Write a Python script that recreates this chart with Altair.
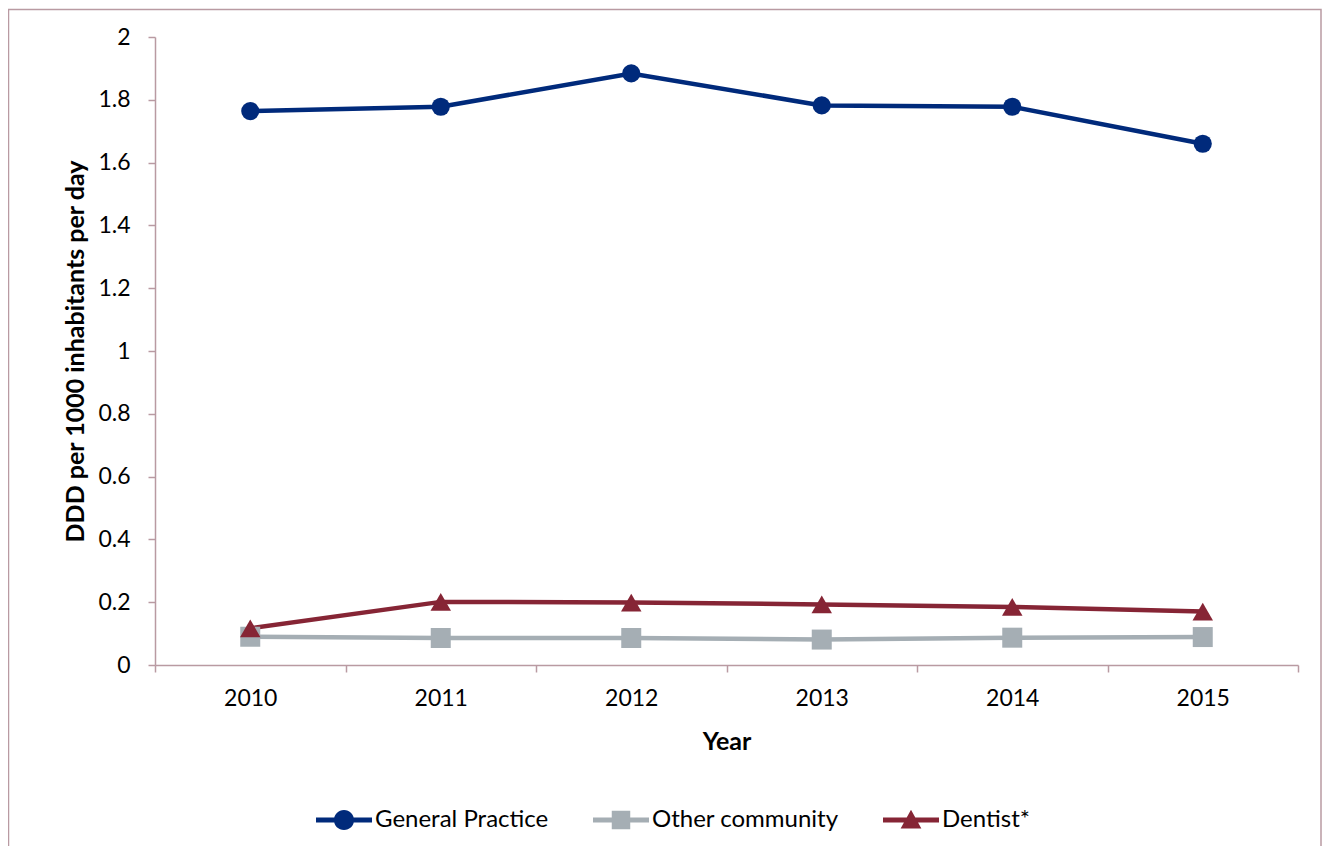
import altair as alt
import pandas as pd

years = ["2010", "2011", "2012", "2013", "2014", "2015"]
series_names = ["General Practice", "Other community", "Dentist*"]
general_practice = [1.764, 1.778, 1.884, 1.782, 1.778, 1.660]
other_community = [0.090, 0.086, 0.086, 0.081, 0.087, 0.089]
dentist = [0.117, 0.201, 0.199, 0.193, 0.185, 0.170]
colors = ["#002A7B", "#A5AEB4", "#862535"]
shapes = ["circle", "square", "triangle-up"]
sizes = [330, 400, 420]
y_ticks = [0, 0.2, 0.4, 0.6, 0.8, 1.0, 1.2, 1.4, 1.6, 1.8, 2.0]

rows = []
for name, vals in zip(series_names, [general_practice, other_community, dentist]):
    for yr, v in zip(years, vals):
        rows.append({"Year": yr, "value": v, "series": name})
df = pd.DataFrame(rows)

FONT = "Lato"
AXIS_COLOR = "#B99AA2"

# legend symbols: line segment + marker, in unit coordinates
line_part = "M-1,-0.085 L1,-0.085 L1,0.085 L-1,0.085 Z "
legend_paths = [
    line_part + "M-0.36,0 A0.36,0.36 0 1,1 0.36,0 A0.36,0.36 0 1,1 -0.36,0 Z",
    line_part + "M-0.33,-0.33 L0.33,-0.33 L0.33,0.33 L-0.33,0.33 Z",
    line_part + "M0,-0.37 L0.37,0.3 L-0.37,0.3 Z",
]

legend = alt.Legend(
    title=None,
    orient="none",
    legendX=161,
    legendY=755,
    direction="horizontal",
    symbolSize=3136,
    symbolOpacity=1,
    symbolStrokeWidth=0,
    labelFont=FONT,
    labelFontSize=24,
    labelColor="#000000",
    labelOffset=3,
    labelLimit=500,
    columnPadding=44,
    padding=0,
)

color_scale = alt.Scale(domain=series_names, range=colors)

x_enc = alt.X(
    "Year:O",
    scale=alt.Scale(type="band", paddingInner=0, paddingOuter=0),
    axis=alt.Axis(
        title="Year",
        labelAngle=0,
        tickBand="extent",
        labelPadding=15,
        titleY=76,
        titleBaseline="middle",
    ),
)
y_enc = alt.Y(
    "value:Q",
    scale=alt.Scale(domain=[0, 2], nice=False),
    axis=alt.Axis(
        title="DDD per 1000 inhabitants per day",
        values=y_ticks,
        format="~g",
        labelPadding=18,
        grid=False,
        titleX=-80,
        titleY=314,
        titleAngle=270,
        titleAlign="center",
        titleBaseline="middle",
    ),
)

border = (
    alt.Chart(alt.Data(values=[{"a": 1}]))
    .mark_rect(filled=False, stroke=AXIS_COLOR, strokeWidth=1.5)
    .encode(
        x=alt.value(-146.5),
        x2=alt.value(1166),
        y=alt.value(-27.5),
        y2=alt.value(900),
    )
)

legend_layer = (
    alt.Chart(df)
    .mark_point(filled=True, opacity=0)
    .encode(
        x=x_enc,
        y=y_enc,
        color=alt.Color("series:N", scale=color_scale, legend=legend, sort=series_names),
        shape=alt.Shape("series:N", scale=alt.Scale(domain=series_names, range=legend_paths),
                        legend=legend, sort=series_names),
    )
)

lines = (
    alt.Chart(df)
    .mark_line(strokeWidth=4.5)
    .encode(x=x_enc, y=y_enc,
            color=alt.Color("series:N", scale=color_scale, legend=None),
            detail="series:N")
)

point_layers = []
for name, shp, sz in zip(series_names, shapes, sizes):
    point_layers.append(
        alt.Chart(df)
        .transform_filter(alt.datum.series == name)
        .mark_point(filled=True, opacity=1, shape=shp, size=sz)
        .encode(x=x_enc, y=y_enc,
                color=alt.Color("series:N", scale=color_scale, legend=None))
    )

chart = (
    alt.layer(border, legend_layer, lines, *point_layers)
    .properties(
        width=1143,
        height=628,
        autosize="none",
        padding={"left": 147, "top": 29, "right": 24, "bottom": 181},
        background="#ffffff",
    )
    .configure_view(strokeWidth=0)
    .configure_axis(
        domainColor=AXIS_COLOR,
        tickColor=AXIS_COLOR,
        domainWidth=1.5,
        tickWidth=1.5,
        tickSize=7,
        labelFont=FONT,
        labelFontSize=23,
        labelColor="#000000",
        titleFont=FONT,
        titleFontSize=25,
        titleFontWeight="bold",
        titleColor="#000000",
    )
)

chart.save("out.html", embed_options={"renderer": "svg", "actions": False})
